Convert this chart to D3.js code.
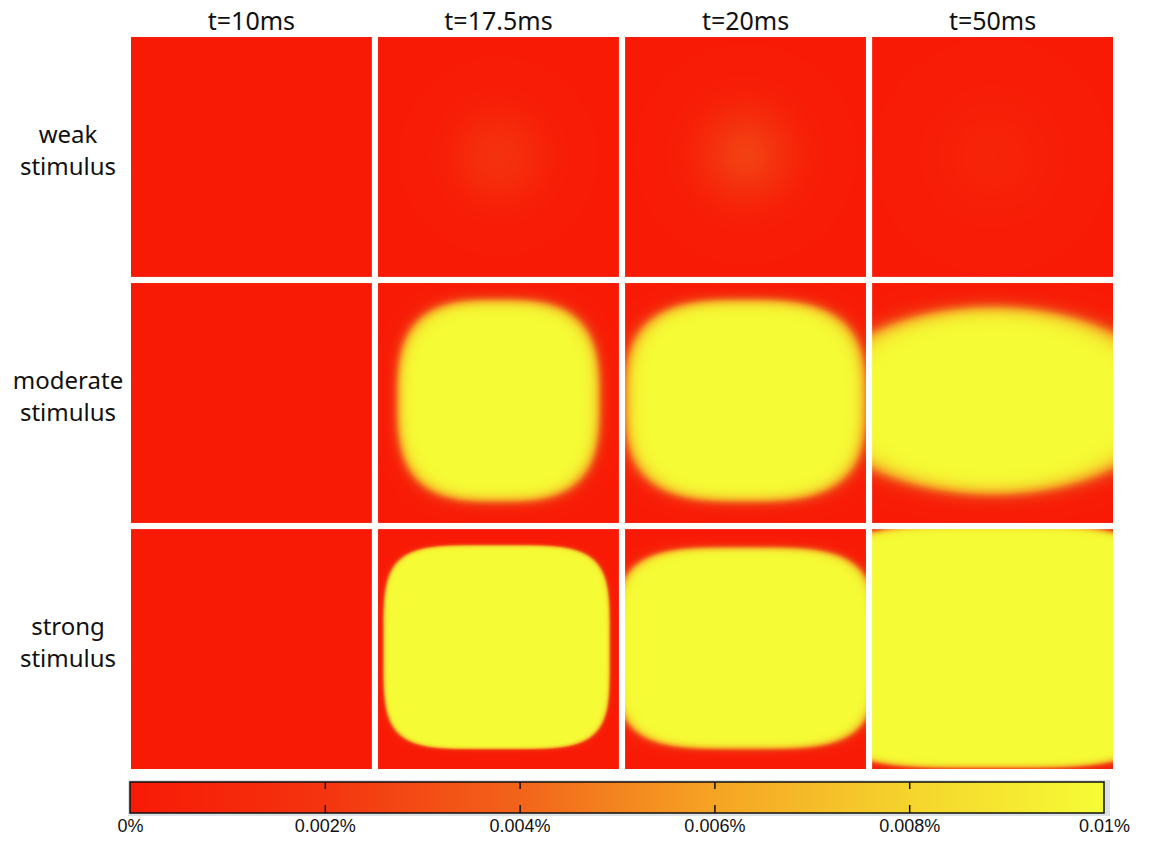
<!DOCTYPE html>
<html>
<head>
<meta charset="utf-8">
<title>Stimulus response maps</title>
<style>
  body { margin: 0; background: #fff; }
  svg { display: block; }
  .title, .rowlab { font-family: "Noto Sans", "Open Sans", sans-serif; fill: #111; }
  .title { font-size: 25px; }
  .rowlab { font-size: 24px; }
</style>
</head>
<body>
<svg id="chart" width="1156" height="841"></svg>
<script src="https://d3js.org/d3.v7.min.js"></script>
<script>
// column and row labels
var times = ["t=10ms", "t=17.5ms", "t=20ms", "t=50ms"];
var stimuli = [["weak", "stimulus"], ["moderate", "stimulus"], ["strong", "stimulus"]];

// colour bar (value in %)
var cbTicks = [0, 0.002, 0.004, 0.006, 0.008, 0.01];
var cbColors = ["#f81a05", "#f4340f", "#f2641a", "#f6a424", "#f5d42c", "#f5fc35"];

// per panel shape: rows = stimulus, cols = time
var peakPct  = [[0, 0.0019, 0.0027, 0.0008], [0, 0.01, 0.01, 0.01], [0, 0.01, 0.01, 0.01]];
var centerU  = [[0.5, 0.5, 0.5, 0.5], [0.5, 0.5, 0.5, 0.5], [0.5, 0.492, 0.5, 0.5]];
var centerV  = [[0.5, 0.5, 0.49, 0.5], [0.5, 0.49, 0.49, 0.49], [0.5, 0.492, 0.496, 0.49]];
var halfW    = [[0.2, 0.16, 0.17, 0.2], [0.2, 0.42, 0.5, 0.72], [0.2, 0.47, 0.54, 0.75]];
var halfH    = [[0.2, 0.16, 0.17, 0.2], [0.2, 0.42, 0.42, 0.39], [0.2, 0.425, 0.42, 0.505]];
var shapeExp = [[2, 2, 2, 2], [2, 3, 3, 2], [2, 4.5, 3.8, 4]];
var edgeSoft = [[0.3, 0.35, 0.35, 0.4], [0.03, 0.035, 0.035, 0.05], [0.03, 0.01, 0.02, 0.015]];

var svg = d3.select("#chart");

var x = d3.scaleBand().domain(d3.range(times.length)).range([131, 1113]).paddingInner(0.025);
var y = d3.scaleBand().domain(d3.range(stimuli.length)).range([37, 769]).paddingInner(0.025);

var color = d3.scaleLinear().domain(cbTicks).range(cbColors).clamp(true);

// lookup table so every pixel goes through the same scale
var lut = d3.range(256).map(function(i) { return d3.rgb(color(i / 255 * 0.01)); });

function panelImage(r, c) {
  var w = Math.round(x.bandwidth()), h = Math.round(y.bandwidth());
  var cv = document.createElement("canvas");
  cv.width = w; cv.height = h;
  var ctx = cv.getContext("2d");
  var img = ctx.createImageData(w, h);
  var pk = peakPct[r][c], n = shapeExp[r][c], s = edgeSoft[r][c];
  for (var j = 0; j < h; j++) {
    for (var i = 0; i < w; i++) {
      var dx = Math.abs(((i + 0.5) / w - centerU[r][c]) / halfW[r][c]);
      var dy = Math.abs(((j + 0.5) / h - centerV[r][c]) / halfH[r][c]);
      var rr = Math.pow(Math.pow(dx, n) + Math.pow(dy, n), 1 / n);
      var v = pk / (1 + Math.exp((rr - 1) / s));
      var col = lut[Math.max(0, Math.min(255, Math.round(v / 0.01 * 255)))];
      var k = (j * w + i) * 4;
      img.data[k] = col.r; img.data[k + 1] = col.g; img.data[k + 2] = col.b; img.data[k + 3] = 255;
    }
  }
  ctx.putImageData(img, 0, 0);
  return cv.toDataURL();
}

var cells = [];
stimuli.forEach(function(_, r) { times.forEach(function(_, c) { cells.push({r: r, c: c}); }); });

svg.append("g").selectAll("image")
  .data(cells)
  .enter().append("image")
    .attr("x", function(d) { return x(d.c); })
    .attr("y", function(d) { return y(d.r); })
    .attr("width", x.bandwidth())
    .attr("height", y.bandwidth())
    .attr("preserveAspectRatio", "none")
    .attr("href", function(d) { return panelImage(d.r, d.c); });

// column titles
svg.append("g").selectAll("text")
  .data(times)
  .enter().append("text")
    .attr("class", "title")
    .attr("x", function(d, i) { return x(i) + x.bandwidth() / 2; })
    .attr("y", 30)
    .attr("text-anchor", "middle")
    .text(function(d) { return d; });

// row labels
var rl = svg.append("g").selectAll("text")
  .data(stimuli)
  .enter().append("text")
    .attr("class", "rowlab")
    .attr("text-anchor", "middle")
    .attr("x", 68)
    .attr("y", function(d, i) { return y(i) + y.bandwidth() / 2 - 14; });
rl.selectAll("tspan")
  .data(function(d) { return d; })
  .enter().append("tspan")
    .attr("x", 68)
    .attr("dy", function(d, i) { return i ? 32 : 0; })
    .text(function(d) { return d; });

// colour bar
var cx = d3.scaleLinear().domain([0, 0.01]).range([130, 1104]);
var cbTop = 782, cbH = 31;

var grad = svg.append("defs").append("linearGradient").attr("id", "cbgrad");
grad.selectAll("stop")
  .data(cbTicks)
  .enter().append("stop")
    .attr("offset", function(d) { return (d / 0.01 * 100) + "%"; })
    .attr("stop-color", function(d) { return color(d); });

var cb = svg.append("g").attr("class", "cb");
cb.append("rect")
  .attr("x", cx(0) - 2).attr("y", cbTop - 2)
  .attr("width", cx(0.01) - cx(0) + 8).attr("height", cbH + 5)
  .attr("fill", "#dde3e4");
cb.append("rect")
  .attr("x", cx(0)).attr("y", cbTop)
  .attr("width", cx(0.01) - cx(0)).attr("height", cbH)
  .attr("fill", "url(#cbgrad)")
  .attr("stroke", "#111").attr("stroke-width", 1.5);

var inner = cbTicks.slice(1, -1);
cb.append("g")
  .attr("transform", "translate(0," + cbTop + ")")
  .call(d3.axisBottom(cx).tickValues(inner).tickSize(7).tickFormat(""))
  .call(function(g) { g.select(".domain").remove(); g.selectAll("line").attr("stroke", "#111").attr("stroke-width", 1.5); });
cb.append("g")
  .attr("transform", "translate(0," + (cbTop + cbH) + ")")
  .call(d3.axisTop(cx).tickValues(inner).tickSize(8).tickFormat(""))
  .call(function(g) { g.select(".domain").remove(); g.selectAll("line").attr("stroke", "#111").attr("stroke-width", 1.5); });
cb.append("g")
  .attr("transform", "translate(0," + (cbTop + cbH) + ")")
  .call(d3.axisBottom(cx).tickValues(cbTicks).tickSize(0).tickPadding(6).tickFormat(function(d) { return d + "%"; }))
  .call(function(g) {
    g.select(".domain").remove();
    g.attr("font-size", null).attr("font-family", null);
    g.selectAll("text")
      .style("font-family", "'Liberation Sans', Arial, sans-serif")
      .style("font-size", "18px")
      .attr("fill", "#111");
  });
</script>
</body>
</html>
